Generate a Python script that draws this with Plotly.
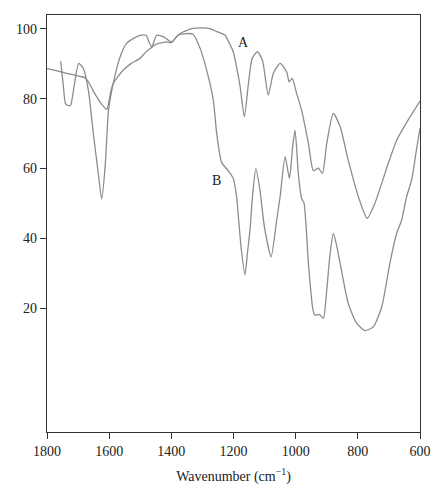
import plotly.graph_objects as go

# Curve A
a_wavenumber = [1800, 1770, 1740, 1710, 1690, 1678, 1665, 1650, 1640, 1625, 1608, 1600, 1595,
                1587, 1570, 1555, 1530, 1501, 1480, 1465, 1450, 1415, 1400, 1385, 1372, 1350,
                1334, 1300, 1276, 1260, 1243, 1227, 1217, 1201, 1190, 1179, 1165, 1152, 1140,
                1123, 1107, 1088, 1072, 1050, 1029, 1021, 1011, 997, 981, 959, 943, 927, 914,
                900, 879, 857, 831, 798, 770, 745, 702, 675, 638, 600]
a_transmittance = [88.6, 88.0, 87.3, 86.7, 86.3, 86.0, 84.5, 82.0, 80.5, 78.5, 76.9, 79.5, 82.0,
                   84.3, 86.5, 88.1, 90.0, 91.5, 93.5, 94.5, 95.5, 96.2, 96.0, 97.5, 98.6, 99.5,
                   100.0, 100.2, 100.0, 99.4, 98.8, 98.1, 96.5, 93.4, 89.0, 83.6, 74.8, 84.3, 91.5,
                   93.4, 91.0, 81.0, 87.2, 90.1, 87.7, 84.8, 85.8, 81.5, 76.7, 67.2, 59.4, 60.1, 58.6,
                   67.2, 75.8, 72.0, 62.4, 51.9, 45.8, 50.1, 61.5, 68.1, 73.9, 79.3]

# Curve B
b_wavenumber = [1756, 1748, 1740, 1730, 1724, 1713, 1698, 1683, 1667, 1651, 1635, 1624, 1613,
                1602, 1587, 1565, 1544, 1520, 1501, 1481, 1472, 1463, 1447, 1426, 1399, 1378,
                1351, 1330, 1308, 1286, 1265, 1254, 1238, 1217, 1201, 1190, 1185, 1175, 1163,
                1155, 1147, 1138, 1128, 1115, 1100, 1079, 1061, 1050, 1034, 1020, 1010, 1002,
                991, 981, 973, 959, 945, 938, 924, 911, 900, 890, 879, 868, 857, 831, 804, 777,
                750, 723, 697, 675, 659, 643, 627, 612, 600]
b_transmittance = [90.7, 84.3, 78.5, 78.0, 78.1, 83.4, 90.1, 88.6, 82.4, 70.1, 58.6, 51.3, 60.5,
                   76.7, 84.3, 91.9, 95.8, 97.3, 98.1, 98.1, 96.2, 94.8, 98.1, 97.7, 96.2, 98.1,
                   98.6, 98.4, 94.5, 88.0, 79.6, 70.0, 61.7, 59.4, 57.2, 52.0, 47.0, 37.0, 29.6,
                   36.0, 42.4, 53.0, 60.0, 53.9, 43.0, 34.8, 45.3, 52.0, 63.4, 57.2, 66.0, 71.0,
                   58.1, 51.5, 50.1, 32.9, 20.0, 18.1, 18.3, 17.2, 25.3, 35.0, 41.5, 38.0, 32.9,
                   21.5, 15.8, 13.7, 14.8, 20.5, 32.9, 41.5, 45.3, 52.0, 56.7, 65.0, 71.5]

label_text = ["A", "B"]
label_x = [1169, 1256]
label_y = [96.1, 56.7]

x_ticks = [1800, 1600, 1400, 1200, 1000, 800, 600]
y_ticks = [20, 40, 60, 80, 100]

line_color = "#8c8c8c"
font_family = "Liberation Serif, DejaVu Serif, serif"

fig = go.Figure()
fig.add_trace(go.Scatter(x=a_wavenumber, y=a_transmittance, mode="lines", name="A",
                         line=dict(color=line_color, width=1.3, shape="spline", smoothing=0.6)))
fig.add_trace(go.Scatter(x=b_wavenumber, y=b_transmittance, mode="lines", name="B",
                         line=dict(color=line_color, width=1.3, shape="spline", smoothing=0.6)))

for t, x, y in zip(label_text, label_x, label_y):
    fig.add_annotation(x=x, y=y, text=t, showarrow=False,
                       font=dict(family=font_family, size=14, color="#222"))

# page body has an 8px default margin, so the figure is sized/offset to compensate
fig.update_layout(
    width=438, height=492,
    margin=dict(l=39, r=26, t=7, b=68),
    paper_bgcolor="white", plot_bgcolor="white",
    showlegend=False,
    font=dict(family=font_family, size=14, color="#222"),
)
fig.update_xaxes(range=[1800, 600], tickvals=x_ticks, ticks="outside", ticklen=6,
                 tickcolor="#333", showline=True, linecolor="#333", linewidth=1.2,
                 mirror=True, showgrid=False, zeroline=False,
                 title=dict(text="Wavenumber (cm<sup>−1</sup>)", standoff=13,
                            font=dict(family=font_family, size=14)))
fig.update_yaxes(range=[-15.3, 103.9], tickvals=y_ticks, ticks="outside", ticklen=6,
                 tickcolor="#333", showline=True, linecolor="#333", linewidth=1.2,
                 mirror=True, showgrid=False, zeroline=False)

fig.write_html("out.html")
